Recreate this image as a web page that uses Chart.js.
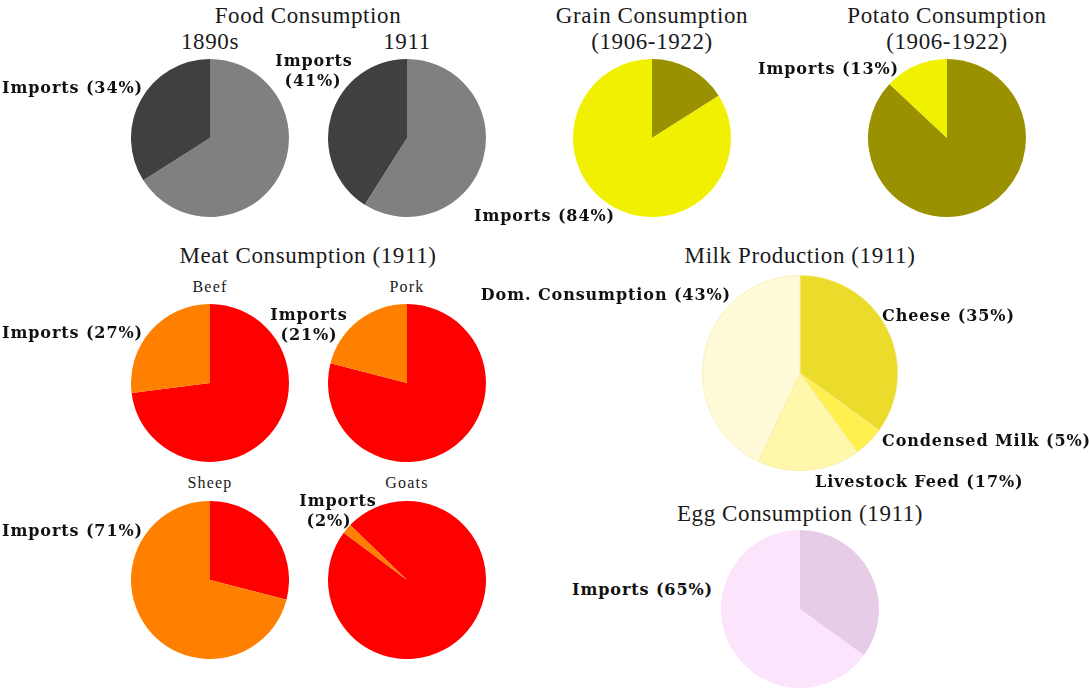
<!DOCTYPE html>
<html>
<head>
<meta charset="utf-8">
<script src="https://cdn.jsdelivr.net/npm/chart.js@4.4.0/dist/chart.umd.min.js"></script>
<style>
  body { margin: 0; background: #fff; }
  #board { position: relative; width: 1089px; height: 688px; overflow: hidden; }
  #board canvas { position: absolute; }
  .t { position: absolute; white-space: nowrap; color: #1a1a1a; font-family: "Liberation Serif", serif; line-height: 1; }
  .title { font-size: 23px; letter-spacing: 0.6px; transform: translate(-50%, -50%); }
  .sub { font-size: 16px; letter-spacing: 1.2px; transform: translate(-50%, -50%); }
  .lbl { font-family: "DejaVu Serif", serif; font-weight: bold; font-size: 16px; letter-spacing: 0.9px; color: #111; }
  .r { transform: translate(calc(-100% + 1px), -50%); }
  .l { transform: translate(0, -50%); }
  .c { transform: translate(-50%, -50%); }
</style>
</head>
<body>
<div id="board"></div>
<script>
// shares in percent, domestic first (clockwise from 12 o'clock), then imports
var food1890s = [66, 34];
var food1911 = [59, 41];
var grain = [16, 84];
var potato = [87, 13];
var beef = [73, 27];
var pork = [79, 21];
var sheep = [29, 71];
var goats = [98, 2];
var milkLabels = ["Cheese", "Condensed Milk", "Livestock Feed", "Dom. Consumption"];
var milk = [35, 5, 17, 43];
var egg = [35, 65];

var board = document.getElementById('board');

var addText = function (txt, x, y, cls) {
    var d = document.createElement('div');
    d.className = 't ' + cls;
    d.style.left = x + 'px';
    d.style.top = y + 'px';
    d.textContent = txt;
    board.appendChild(d);
};

var makePie = function (cx, cy, r, values, colors, opts) {
    opts = opts || {};
    var c = document.createElement('canvas');
    c.width = 2 * r;
    c.height = 2 * r;
    c.style.left = (cx - r) + 'px';
    c.style.top = (cy - r) + 'px';
    c.style.width = 2 * r + 'px';
    c.style.height = 2 * r + 'px';
    board.appendChild(c);
    return new Chart(c, {
        type: 'pie',
        data: {
            labels: opts.labels || ["Domestic", "Imports"],
            datasets: [{
                data: values,
                backgroundColor: colors,
                borderColor: opts.border || colors,
                borderWidth: opts.borderWidth || 0
            }]
        },
        options: {
            responsive: false,
            animation: false,
            rotation: opts.rotation || 0,
            layout: { padding: 0 },
            plugins: { legend: { display: false }, tooltip: { enabled: false } }
        }
    });
};

var grey = ["#808080", "#404040"];
var meat = ["#ff0000", "#ff8000"];

// Food consumption
addText("Food Consumption", 308, 15, 'title');
addText("1890s", 210, 41, 'title');
addText("1911", 407, 41, 'title');
makePie(210, 138, 79, food1890s, grey);
makePie(407, 138, 79, food1911, grey);
addText("Imports (" + food1890s[1] + "%)", 142, 88, 'lbl r');
addText("Imports", 314, 61, 'lbl c');
addText("(" + food1911[1] + "%)", 313, 81, 'lbl c');

// Grain / potato
addText("Grain Consumption", 652, 15, 'title');
addText("(1906-1922)", 652, 41, 'title');
makePie(652, 138, 79, grain, ["#999100", "#f0f000"]);
addText("Imports (" + grain[1] + "%)", 614, 216, 'lbl r');

addText("Potato Consumption", 947, 15, 'title');
addText("(1906-1922)", 947, 41, 'title');
makePie(947, 138, 79, potato, ["#999100", "#f0f000"]);
addText("Imports (" + potato[1] + "%)", 898, 69, 'lbl r');

// Meat
addText("Meat Consumption (1911)", 308, 255, 'title');
addText("Beef", 210, 287, 'sub');
addText("Pork", 407, 287, 'sub');
makePie(210, 383, 79, beef, meat);
makePie(407, 383, 79, pork, meat);
addText("Imports (" + beef[1] + "%)", 142, 333, 'lbl r');
addText("Imports", 309, 315, 'lbl c');
addText("(" + pork[1] + "%)", 309, 335, 'lbl c');

addText("Sheep", 210, 483, 'sub');
addText("Goats", 407, 483, 'sub');
makePie(210, 580, 79, sheep, meat);
makePie(407, 580, 79, goats, meat, { rotation: -46 });
addText("Imports (" + sheep[1] + "%)", 142, 531, 'lbl r');
addText("Imports", 338, 501, 'lbl c');
addText("(" + goats[1] + "%)", 329, 521, 'lbl c');

// Milk
addText("Milk Production (1911)", 800, 255, 'title');
makePie(800, 373, 98, milk, ["#ebdc2b", "#fff04f", "#fff7aa", "#fffad8"],
    { labels: milkLabels, border: "#f6eaa0", borderWidth: 0.6 });
addText(milkLabels[3] + " (" + milk[3] + "%)", 730, 295, 'lbl r');
addText(milkLabels[0] + " (" + milk[0] + "%)", 882, 316, 'lbl l');
addText(milkLabels[1] + " (" + milk[1] + "%)", 882, 441, 'lbl l');
addText(milkLabels[2] + " (" + milk[2] + "%)", 815, 482, 'lbl l');

// Eggs
addText("Egg Consumption (1911)", 800, 513, 'title');
makePie(800, 609, 79, egg, ["#e6cce6", "#fce4fc"]);
addText("Imports (" + egg[1] + "%)", 712, 590, 'lbl r');
</script>
</body>
</html>
